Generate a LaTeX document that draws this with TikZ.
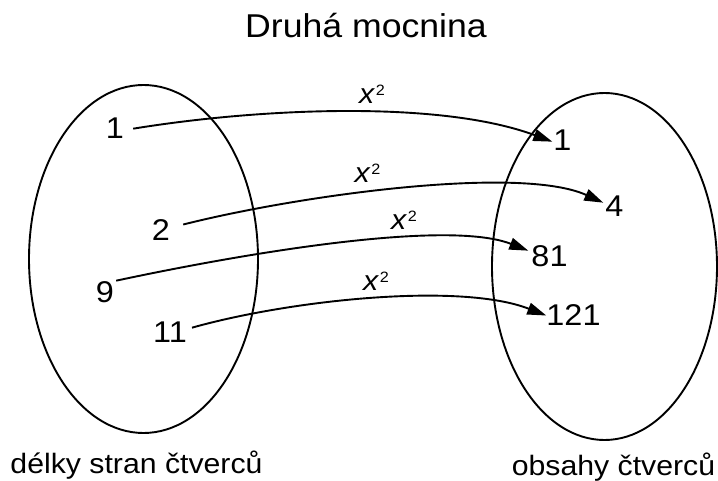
\documentclass[tikz,border=0pt]{standalone}
\usepackage{fontspec}
\setmainfont{Liberation Sans}[FakeStretch=1.08]
\usetikzlibrary{arrows.meta}

\tikzset{
  setline/.style={line width=1.9pt},
  mapto/.style={line width=1.9pt, -{Triangle[length=19pt,width=12pt]}},
  num/.style={inner sep=0pt, anchor=base, font=\fontsize{30}{30}\selectfont},
  maplabel/.style={inner sep=0pt, anchor=base, font=\fontsize{28}{28}\selectfont},
  caption/.style={inner sep=0pt, anchor=base, font=\fontsize{28}{28}\selectfont},
  heading/.style={inner sep=0pt, anchor=base, font=\fontsize{33}{33}\selectfont}
}
\newcommand{\sq}{\textit{x}\kern0.5pt\raisebox{8pt}{\fontsize{15}{15}\selectfont 2}}

\begin{document}
\begin{tikzpicture}[x=1pt, y=-1pt]
  \useasboundingbox (0,0) rectangle (718,481);

  % heading
  \node[heading] (title) at (366,38) {Druhá mocnina};

  % the two sets
  \draw[setline] (143.5,259) ellipse [x radius=114.5, y radius=174];
  \draw[setline] (604.5,266.5) ellipse [x radius=112.5, y radius=173.5];

  % side lengths
  \node[num] (l1)  at (115,139) {1};
  \node[num] (l2)  at (161,241) {2};
  \node[num] (l9)  at (105,303) {9};
  \node[num] (l11) at (170,342) {11};

  % areas
  \node[num] (r1)   at (562.5,151) {1};
  \node[num] (r4)   at (614.5,217) {4};
  \node[num] (r81)  at (549.5,267) {81};
  \node[num] (r121) at (573.5,325) {121};

  % mapping arrows
  \draw[mapto] ([shift={(9,0)}]l1.east)
     .. controls (260,108) and (440,100) .. ([shift={(-1,1)}]r1.west);
  \draw[mapto] ([shift={(13,-6)}]l2.east)
     .. controls (300,195) and (520,165) .. ([shift={(-2,-4)}]r4.west);
  \draw[mapto] ([shift={(2,-12)}]l9.east)
     .. controls (260,250) and (450,220) .. ([shift={(-3,-6)}]r81.west);
  \draw[mapto] ([shift={(5,-4)}]l11.east)
     .. controls (290,300) and (460,282) .. ([shift={(0,1)}]r121.west);

  % arrow labels
  \node[maplabel] (x1) at (372,104)     {\sq};
  \node[maplabel] (x2) at (367.5,182.5) {\sq};
  \node[maplabel] (x3) at (404,230)     {\sq};
  \node[maplabel] (x4) at (376,290.5)   {\sq};

  % set captions
  \node[caption] (domain) at (136.5,473) {délky stran čtverců};
  \node[caption] (range)  at (613.5,475) {obsahy čtverců};
\end{tikzpicture}
\end{document}
